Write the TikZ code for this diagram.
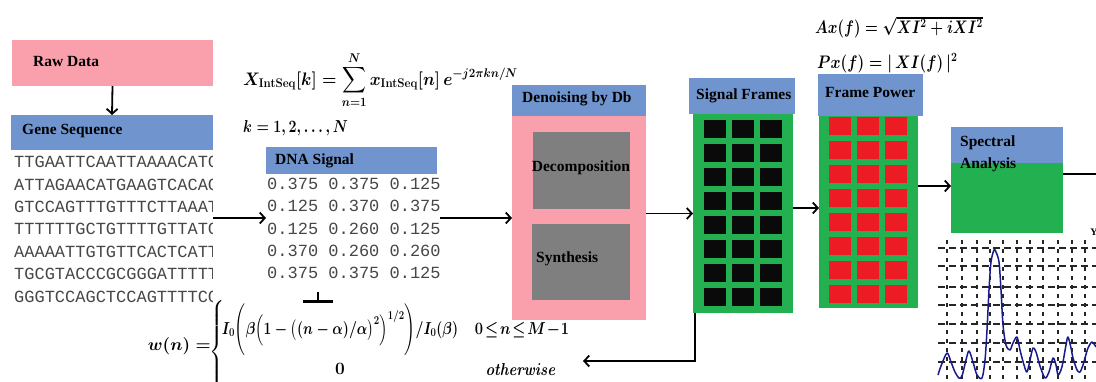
\documentclass[tikz,border=0pt]{standalone}
\usepackage{amsmath}
\usepackage[no-math]{fontspec}
\setmainfont{Liberation Serif}
\setmonofont{Liberation Mono}
\usetikzlibrary{arrows.meta,calc}

\definecolor{rawpink}{RGB}{249,160,172}
\definecolor{hdrblue}{RGB}{112,148,205}
\definecolor{frmgreen}{RGB}{34,176,80}
\definecolor{sqred}{RGB}{237,28,36}
\definecolor{sqblack}{RGB}{10,10,10}
\definecolor{boxgray}{RGB}{127,127,127}
\definecolor{curveblue}{RGB}{25,25,140}
\definecolor{seqgray}{RGB}{70,70,70}

\tikzset{
 blk/.style={draw=none,inner sep=0pt,outer sep=0pt,anchor=north west},
 lbl/.style={inner sep=0pt,anchor=west,font=\fontsize{15.5}{17}\selectfont\bfseries},
 seqtxt/.style={inner sep=0pt,anchor=west,font=\fontsize{17}{18}\selectfont\ttfamily,text=seqgray},
 arr/.style={line width=1.8pt,-{Straight Barb[length=5pt,width=11pt]}},
 conn/.style={line width=1.8pt},
 fml/.style={inner sep=0pt,font=\fontsize{17}{20}\selectfont\boldmath},
 gridh/.style={line width=1.1pt,black!85,dash pattern=on 7pt off 4pt},
 gridv/.style={line width=1.1pt,black!85,dash pattern=on 4pt off 5pt},
}

\begin{document}
\begin{tikzpicture}[x=1pt,y=-1pt]
\useasboundingbox (0,0) rectangle (1096,381);

% ---------------- Raw data and gene sequence
\node[blk,fill=rawpink,minimum width=201pt,minimum height=46pt] (raw) at (12,40) {};
\node[lbl] (rawlbl) at (33,61) {Raw Data};
\node[blk,fill=hdrblue,minimum width=202pt,minimum height=35pt] (genehdr) at (11,115) {};
\node[lbl] (genelbl) at (22,131) {Gene Sequence};
\draw[arr] (raw.south) -- (genehdr.north);

\node[blk,minimum width=202pt,minimum height=160pt] (geneseq) at (11,150) {};
\begin{scope}
\clip (11,150) rectangle (212,310);
\foreach \s [count=\i from 0] in {TTGAATTCAATTAAAACATC,ATTAGAACATGAAGTCACAC,GTCCAGTTTGTTTCTTAAAT,TTTTTTGCTGTTTTGTTATC,AAAAATTGTGTTCACTCATT,TGCGTACCCGCGGGATTTTT,GGGTCCAGCTCCAGTTTTCC}
  \node[seqtxt] (gs\i) at (14,162+22.4*\i) {\s};
\end{scope}

% ---------------- DNA signal
\node[blk,fill=hdrblue,minimum width=171pt,minimum height=27pt] (dnahdr) at (266,147) {};
\node[lbl] (dnalbl) at (275,161) {DNA Signal};
\node[blk,minimum width=171pt,minimum height=118pt] (dnavals) at (266,174) {};
\foreach \s [count=\i from 0] in {0.375 0.375 0.125,0.125 0.370 0.375,0.125 0.260 0.125,0.370 0.260 0.260,0.375 0.375 0.125}
  \node[seqtxt] (dv\i) at (267,184+22.2*\i) {\s};

% ---------------- Denoising
\node[blk,fill=hdrblue,minimum width=134pt,minimum height=31pt] (denhdr) at (512,85) {};
\node[lbl] (denlbl) at (522,99) {Denoising by Db};
\node[blk,fill=rawpink,minimum width=134pt,minimum height=204pt] (denbody) at (512,116) {};
\node[blk,fill=boxgray,minimum width=97pt,minimum height=77pt] (decomp) at (533,132) {};
\node[lbl,anchor=center] (decomplbl) at (581,168) {Decomposition};
\node[blk,fill=boxgray,minimum width=98pt,minimum height=76pt] (synth) at (532,224) {};
\node[lbl] (synthlbl) at (536,259) {Synthesis};

% ---------------- Signal frames
\node[blk,fill=hdrblue,minimum width=106pt,minimum height=36pt] (sighdr) at (689,78) {};
\node[lbl] (siglbl) at (696,96) {Signal Frames};
\node[blk,fill=frmgreen,minimum width=100pt,minimum height=199pt] (sigbody) at (693,114) {};
\foreach \c in {0,1,2} \foreach \r in {0,...,7}
  \fill[sqblack] (704+28*\c,120+24*\r) rectangle ++(22,18);

% ---------------- Frame power
\node[blk,fill=hdrblue,minimum width=105pt,minimum height=42pt] (powhdr) at (818,74) {};
\node[lbl] (powlbl) at (825,92) {Frame Power};
\node[blk,fill=frmgreen,minimum width=99pt,minimum height=192pt] (powbody) at (819,116) {};
\foreach \c in {0,1,2} \foreach \r in {0,...,7}
  \fill[sqred] (829+28*\c,117+24*\r) rectangle ++(22,18);

% ---------------- Spectral analysis
\node[blk,fill=frmgreen,minimum width=112pt,minimum height=106pt] (spec) at (951,127) {};
\node[blk,fill=hdrblue,minimum width=112pt,minimum height=36pt] (spechdr) at (951,127) {};
\node[lbl] (speclbl1) at (960,143) {Spectral};
\node[lbl] (speclbl2) at (960,165) {Analysis};

% ---------------- Connectors
\draw[arr] (geneseq.east |- denbody.west) -- (dnavals.west |- denbody.west);
\draw[arr] ($(dnavals.east |- denbody.west)+(3,0)$) -- (denbody.west);
\draw[arr] (denbody.east |- sigbody.west) -- (sigbody.west);
\coordinate (powin) at ($(powbody.west)+(0,-4)$);
\draw[arr] (sigbody.east |- powin) -- (powin);
\coordinate (specin) at ($(spec.west)+(0,6)$);
\draw[arr] (powbody.east |- specin) -- (specin);
\coordinate (specout) at (1096,174);
\draw[conn] (spec.east |- specout) -- (specout);
\coordinate (retc) at (695,361);
\coordinate (rete) at (583,361);
\draw[arr] (sigbody.south -| retc) -- (retc) -- (rete);
\coordinate (barend) at (318,303);
\draw[line width=2pt,-{Bar[width=30pt,line width=3pt]}] (dnavals.south -| barend) -- (barend);

% ---------------- Formulas
\node[fml,anchor=west] (dft) at (243,80) {\scalebox{0.96}[1.05]{$X_{\mathbf{IntSeq}}[k]=\displaystyle\sum_{n=1}^{N} x_{\mathbf{IntSeq}}[n]\,e^{-j2\pi kn/N}$}};
\node[fml,anchor=west] (krange) at (243,128) {\scalebox{0.82}[1]{$k=1,2,\ldots,N$}};
\node[fml,anchor=west] (amp) at (815,27) {\scalebox{0.85}[1.05]{$Ax(f)=\sqrt{XI^2+iXI^2}$}};
\node[fml,anchor=west] (pwr) at (817,63) {\scalebox{0.88}[1.05]{$Px(f)=|\,XI(f)\,|^2$}};

\node[fml,anchor=east] (wlhs) at (211,346) {$w(n)=$};
\node[fml] (kbrace) at (218,352) {$\left\{\vrule height 46pt depth 46pt width 0pt\right.$};
\node[fml] (krow1) at (340,330) {\scalebox{0.8}[1]{$I_0\Biggl(\beta\Bigl(1-\bigl((n-\alpha)/\alpha\bigr)^2\Bigr)^{1/2}\Biggr)/I_0(\beta)$}};
\node[fml] (kcond1) at (522,330) {\scalebox{0.85}[1]{$0\!\le\! n\!\le\! M\!-\!1$}};
\node[fml] (krow2) at (340,369) {$0$};
\node[fml] (kcond2) at (521,369) {\scalebox{0.85}[1]{$\mathit{otherwise}$}};

% ---------------- Spectrum plot
\begin{scope}
\clip (930,238) rectangle (1096,381);
\foreach \yy in {248,266,287,305,324,343,362}
  \draw[gridh] (938,\yy) -- (1096,\yy);
\foreach \xx in {947,962,977,990,1003,1017,1030,1043,1058,1072,1085}
  \draw[gridv] (\xx,240) -- (\xx,381);
\draw[curveblue,line width=1.5pt,line join=round] plot[smooth,tension=0.5] coordinates {
(938,375) (941,366) (947,353) (951,362) (955,372) (959,378) (962,376) (966,360) (969,351)
(973,362) (977,375) (982,378) (985,360) (987,330) (989,290) (991,262) (994,250) (996,252)
(999,262) (1001,290) (1003,325) (1006,345) (1010,350) (1013,343) (1017,337) (1020,350)
(1024,365) (1027,372) (1030,360) (1033,348) (1036,352) (1040,366) (1045,378) (1049,372)
(1053,358) (1056,365) (1058,375) (1061,370) (1063,362) (1066,345) (1068,337) (1071,348)
(1073,358) (1077,370) (1080,372) (1083,365) (1085,358) (1088,348) (1092,342) (1096,347)};
\end{scope}
\node[inner sep=0pt,font=\fontsize{10}{10}\selectfont\bfseries] (ymark) at (1094,232) {Y};
\end{tikzpicture}
\end{document}
